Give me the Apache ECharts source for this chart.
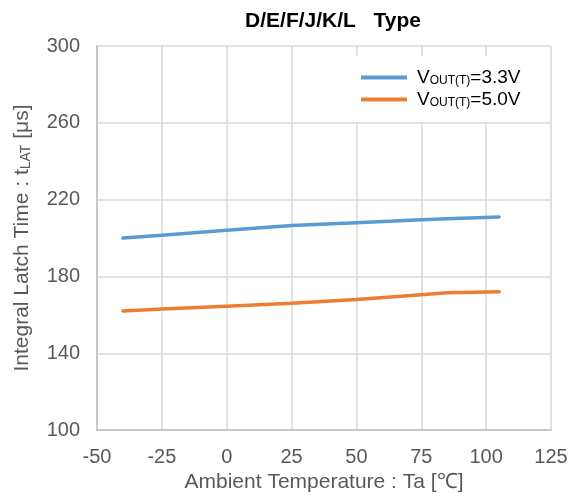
<!DOCTYPE html>
<html>
<head>
<meta charset="utf-8">
<script src="https://cdn.jsdelivr.net/npm/echarts@6/dist/echarts.min.js"></script>
<style>
  html, body { margin: 0; padding: 0; background: #fff; }
  #chart { width: 577px; height: 498px; }
</style>
</head>
<body>
<div id="chart"></div>
<script>
  var temps = [-40, -25, 0, 25, 50, 75, 85, 105]
  var v33 = [200, 201.5, 204, 206.5, 208, 209.5, 210, 211]
  var v50 = [162, 163, 164.5, 166, 168, 170.5, 171.5, 172]
  var names = ['VOUT(T)=3.3V', 'VOUT(T)=5.0V']
  var colors = ['#5b9bd5', '#ed7d31']

  function pairs(xs, ys) {
    var out = []
    for (var i = 0; i < xs.length; i++) out.push([xs[i], ys[i]])
    return out
  }

  var font = '"Liberation Sans", Arial, sans-serif'
  var gray = '#595959'
  var chart = echarts.init(document.getElementById('chart'))

  var option = {
    backgroundColor: '#fff',
    animation: false,
    title: {
      text: 'D/E/F/J/K/L   Type',
      left: 328,
      textAlign: 'center',
      top: 6,
      textStyle: { fontFamily: font, fontSize: 21, fontWeight: 'bold', color: '#000' }
    },
    legend: {
      orient: 'vertical',
      left: 347,
      top: 56,
      width: 190,
      padding: [12, 12, 13, 14],
      backgroundColor: '#fff',
      itemGap: 3,
      itemWidth: 46,
      itemHeight: 4,
      icon: 'rect',
      data: names,
      formatter: function (n) {
        return '{v|V}{b|OUT(T)}{a|' + n.split(')')[1] + '}'
      },
      textStyle: {
        fontFamily: font,
        color: '#000',
        rich: {
          v: { fontFamily: font, fontSize: 19, color: '#000', padding: [0, 0, 0, 5] },
          a: { fontFamily: font, fontSize: 19, color: '#000' },
          b: { fontFamily: font, fontSize: 12, color: '#000', padding: [7, 0, 0, 0] }
        }
      }
    },
    grid: { left: 97, right: 26, top: 46, bottom: 65 },
    xAxis: {
      type: 'value',
      min: -50,
      max: 125,
      interval: 25,
      name: 'Ambient Temperature : Ta [℃]',
      nameLocation: 'middle',
      nameGap: 37,
      nameTextStyle: { fontFamily: font, fontSize: 21, color: gray },
      axisLine: { show: true, onZero: false, lineStyle: { color: '#bfbfbf', width: 1.5 } },
      axisTick: { show: false },
      axisLabel: { fontFamily: font, fontSize: 20, color: gray, margin: 17 },
      splitLine: { show: true, lineStyle: { color: '#d9d9d9', width: 1.5 } }
    },
    yAxis: {
      type: 'value',
      min: 100,
      max: 300,
      interval: 40,
      name: 'Integral Latch Time : t{s|LAT} [μs]',
      nameLocation: 'middle',
      nameGap: 64,
      nameTextStyle: {
        fontFamily: font, fontSize: 21, color: gray,
        rich: {
          s: { fontFamily: font, fontSize: 14, color: gray, padding: [7, 0, 0, 0] }
        }
      },
      axisLine: { show: true, onZero: false, lineStyle: { color: '#bfbfbf', width: 1.5 } },
      axisTick: { show: false },
      axisLabel: { fontFamily: font, fontSize: 20, color: gray, margin: 17 },
      splitLine: { show: true, lineStyle: { color: '#d9d9d9', width: 1.5 } }
    },
    series: [
      {
        name: names[0],
        type: 'line',
        data: pairs(temps, v33),
        showSymbol: false,
        lineStyle: { color: colors[0], width: 3.5, cap: 'round' },
        itemStyle: { color: colors[0] }
      },
      {
        name: names[1],
        type: 'line',
        data: pairs(temps, v50),
        showSymbol: false,
        lineStyle: { color: colors[1], width: 3.5, cap: 'round' },
        itemStyle: { color: colors[1] }
      }
    ]
  }
  chart.setOption(option)
</script>
</body>
</html>
